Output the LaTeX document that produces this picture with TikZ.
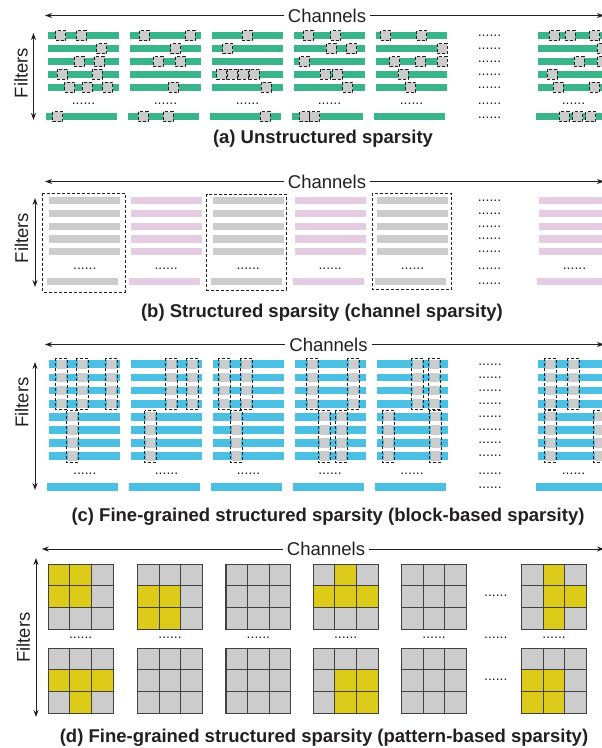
\documentclass[tikz,border=0pt]{standalone}
\usepackage{fontspec}
\setmainfont{Liberation Sans}
\usetikzlibrary{arrows.meta}
\definecolor{wgreen}{RGB}{58,181,138}
\definecolor{wpink}{RGB}{230,204,226}
\definecolor{wblue}{RGB}{76,192,226}
\definecolor{wgray}{RGB}{204,204,204}
\definecolor{wyellow}{RGB}{221,203,26}
\definecolor{ink}{RGB}{35,31,32}

\tikzset{
  tip/.tip={Stealth[length=7pt,width=5pt]},
  axis/.style={draw=ink,line width=0.9pt,-tip},
  axis2/.style={draw=ink,line width=0.9pt,tip-tip},
  axislab/.style={font=\fontsize{18.5}{20}\selectfont,text=ink,inner sep=4pt},
  caption/.style={font=\bfseries\fontsize{18.5}{20}\selectfont,text=ink,inner sep=0pt},
  gap/.style={font=\fontsize{14}{14}\selectfont,text=ink,inner sep=0pt},
  cut/.style={draw=ink,fill=wgray,densely dashed,line width=0.6pt},
  blk/.style={draw=ink,densely dashed,line width=0.7pt},
  chbox/.style={draw=ink,densely dashed,line width=0.8pt},
  kcell/.style={draw=ink!85,fill=wgray,line width=1.1pt},
}

\begin{document}
\begin{tikzpicture}[x=1pt,y=-1pt,line join=miter]
  \path[use as bounding box] (0,0) rectangle (602,748);
  \clip (0,0) rectangle (602,748);

  % ---- (a) unstructured sparsity ----
  \node[axislab] (chA) at (327,15.5) {Channels};
  \coordinate (chAl) at (45,15.5);
  \coordinate (chAr) at (604,15.5);
  \draw[axis] (chA) -- (chAl);
  \draw[axis] (chA) -- (chAr);
  \coordinate (fAt) at (33.5,33);
  \coordinate (fAb) at (33.5,120);
  \draw[axis2] (fAt) -- (fAb);
  \node[axislab,rotate=90] (fA) at (21,73) {Filters};

  \foreach \x [count=\g] in {48,130,212,294,376,538}{
    \foreach \y in {35.7,48.6,61.5,74.4,87.3}
      \fill[wgreen] (\x,\y-3.75) rectangle ++(71,7.5);
    \fill[wgreen] (\x-2,116.7-3.75) rectangle ++(71,7.5);
    \node[gap] (gA\g) at (\x+35.5,104) {......};
  }
  \foreach \y [count=\r] in {35.7,48.6,61.5,74.4,87.3,104,117.5}
    \node[gap] (dA\r) at (489.5,\y) {......};

  % pruned weights, row by row
  \foreach \x in {60.7,81,144.3,190,247,308,335.7,385.7,421.7,554,570,594.7}
    \filldraw[cut] (\x-5,35.7-5) rectangle ++(10,10);
  \foreach \x in {101.7,175.7,227.7,331,351.7,442.3,602}
    \filldraw[cut] (\x-5,48.6-5) rectangle ++(10,10);
  \foreach \x in {79,99.3,158,180,304,394.7,420,442.3,579.3,602}
    \filldraw[cut] (\x-5,61.5-5) rectangle ++(10,10);
  \foreach \x in {62,97,221.7,232.3,243,254,325,337.7,403,552}
    \filldraw[cut] (\x-5,74.4-5) rectangle ++(10,10);
  \foreach \x in {69.7,87.3,107.7,173.7,266,347.7,410.7,558,594.7}
    \filldraw[cut] (\x-5,87.3-5) rectangle ++(10,10);
  \foreach \x in {57.7,143,168,265,304.7,314.7,564.3,577.7,590.7}
    \filldraw[cut] (\x-5,116.7-5) rectangle ++(10,10);

  \node[caption] (capA) at (323,139) {(a) Unstructured sparsity};

  % ---- (b) channel sparsity ----
  \node[axislab] (chB) at (327,181.5) {Channels};
  \coordinate (chBl) at (45,181.5);
  \coordinate (chBr) at (604,181.5);
  \draw[axis] (chB) -- (chBl);
  \draw[axis] (chB) -- (chBr);
  \coordinate (fBt) at (35,198);
  \coordinate (fBb) at (35,287);
  \draw[axis2] (fBt) -- (fBb);
  \node[axislab,rotate=90] (fB) at (21.5,238) {Filters};

  \foreach \x/\c [count=\g] in {49.3/wgray,130.7/wpink,212.7/wgray,294.7/wpink,377/wgray,539/wpink}{
    \foreach \y in {200.7,213.5,226.3,239,251.7}
      \fill[\c] (\x,\y-3.75) rectangle ++(71,7.5);
    \fill[\c] (\x-2,281.7-3.75) rectangle ++(71,7.5);
    \node[gap] (gB\g) at (\x+35.5,269) {......};
  }
  \foreach \y [count=\r] in {200.7,213.5,226.3,239,251.7,269,283.5}
    \node[gap] (dB\r) at (489.5,\y) {......};
  \draw[chbox] (42.7,193.3) rectangle (125,292);
  \draw[chbox] (206.7,194) rectangle (286,290);
  \draw[chbox] (372,193.3) rectangle (451.7,289.3);

  \node[caption] (capB) at (322,312.5) {(b) Structured sparsity (channel sparsity)};

  % ---- (c) block-based sparsity ----
  \node[axislab] (chC) at (328.5,344.5) {Channels};
  \coordinate (chCl) at (45,344.5);
  \coordinate (chCr) at (604,344.5);
  \draw[axis] (chC) -- (chCl);
  \draw[axis] (chC) -- (chCr);
  \coordinate (fCt) at (35,362);
  \coordinate (fCb) at (35,490);
  \draw[axis2] (fCt) -- (fCb);
  \node[axislab,rotate=90] (fC) at (21.7,402.5) {Filters};

  \foreach \x [count=\g] in {49.3,131,213,294.5,376.5,538}{
    \foreach \y in {364.3,377.4,390.5,403.6,416.7,429.8,442.9,456}
      \fill[wblue] (\x,\y-3.9) rectangle ++(71,7.8);
    \fill[wblue] (\x-2,487-3.9) rectangle ++(71,7.8);
    \node[gap] (gC\g) at (\x+35.5,474) {......};
  }
  \foreach \y [count=\r] in {364.3,377.4,390.5,403.6,416.7,429.8,442.9,456,474,488}
    \node[gap] (dC\r) at (490,\y) {......};

  % pruned 4x1 blocks, upper and lower half
  \foreach \x in {61.7,82.7,111.3,171.7,192.3,224.3,246.7,312.3,353.7,417.3,434.3,550.7,573.3}{
    \foreach \y in {364.3,377.4,390.5,403.6}
      \fill[wgray] (\x-4.5,\y-4.75) rectangle ++(9,9.5);
    \draw[blk] (\x-6,358.3) rectangle (\x+6,409.6);
  }
  \foreach \x in {72.7,150.7,236,324.3,341,388,435,550.7,599}{
    \foreach \y in {416.7,429.8,442.9,456}
      \fill[wgray] (\x-4.5,\y-4.75) rectangle ++(9,9.5);
    \draw[blk] (\x-6,410.7) rectangle (\x+6,462);
  }

  \node[caption] (capC) at (328,516.7) {(c) Fine-grained structured sparsity (block-based sparsity)};

  % ---- (d) pattern-based sparsity ----
  \node[axislab] (chD) at (326,549) {Channels};
  \coordinate (chDl) at (41.7,549);
  \coordinate (chDr) at (604,549);
  \draw[axis] (chD) -- (chDl);
  \draw[axis] (chD) -- (chDr);
  \coordinate (fDt) at (36,558);
  \coordinate (fDb) at (36,717);
  \draw[axis2] (fDt) -- (fDb);
  \node[axislab,rotate=90] (fD) at (23.3,637.5) {Filters};

  % 3x3 kernels
  \foreach \x in {48.3,137.7,226,313.3,401.7,521.7}
    \foreach \y in {564.3,648.3}
      \foreach \i in {0,1,2}
        \foreach \j in {0,1,2}
          \filldraw[kcell] (\x+21.6*\i,\y+21.6*\j) rectangle ++(21.6,21.6);
  % kept weights of each pattern
  \foreach \x/\y/\i/\j in {
      48.3/564.3/0/0, 48.3/564.3/1/0, 48.3/564.3/0/1, 48.3/564.3/1/1,
      137.7/564.3/0/1, 137.7/564.3/1/1, 137.7/564.3/0/2, 137.7/564.3/1/2,
      313.3/564.3/1/0, 313.3/564.3/0/1, 313.3/564.3/1/1, 313.3/564.3/2/1,
      521.7/564.3/1/0, 521.7/564.3/1/1, 521.7/564.3/2/1, 521.7/564.3/1/2,
      48.3/648.3/0/1, 48.3/648.3/1/1, 48.3/648.3/2/1, 48.3/648.3/1/2,
      313.3/648.3/1/1, 313.3/648.3/2/1, 313.3/648.3/1/2, 313.3/648.3/2/2,
      521.7/648.3/0/1, 521.7/648.3/1/1, 521.7/648.3/0/2, 521.7/648.3/1/2}
    \filldraw[kcell,fill=wyellow] (\x+21.6*\i,\y+21.6*\j) rectangle ++(21.6,21.6);

  \foreach \x [count=\g] in {48.3,137.7,226,313.3,401.7,521.7}
    \node[gap] (gD\g) at (\x+32.4,637.7) {......};
  \foreach \y [count=\r] in {596,637.7,680}
    \node[gap] (dD\r) at (495.8,\y) {......};

  \node[caption] (capD) at (324,737.5) {(d) Fine-grained structured sparsity (pattern-based sparsity)};
\end{tikzpicture}
\end{document}
